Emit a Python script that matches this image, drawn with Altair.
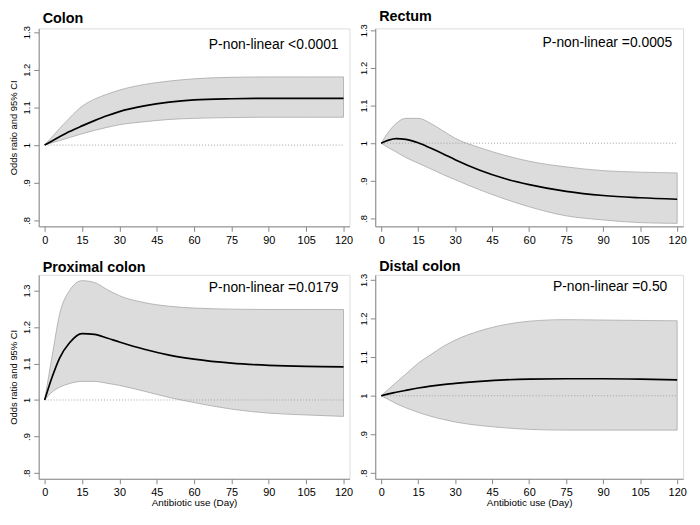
import altair as alt
import pandas as pd

days = [0, 3, 6, 10, 15, 20, 25, 30, 40, 50, 60, 75, 90, 105, 120]

panel_names = ["Colon", "Rectum", "Proximal colon", "Distal colon"]

colon_or = [1.0, 1.011, 1.022, 1.036, 1.051, 1.065, 1.078, 1.089, 1.104, 1.114, 1.120, 1.123, 1.124, 1.124, 1.124]
colon_hi = [1.0, 1.022, 1.044, 1.072, 1.103, 1.122, 1.135, 1.146, 1.161, 1.170, 1.176, 1.180, 1.181, 1.181, 1.181]
colon_lo = [1.0, 1.006, 1.012, 1.020, 1.030, 1.039, 1.047, 1.054, 1.062, 1.068, 1.071, 1.073, 1.074, 1.074, 1.074]

rectum_or = [1.0, 1.008, 1.012, 1.010, 1.001, 0.987, 0.972, 0.956, 0.928, 0.906, 0.890, 0.872, 0.861, 0.855, 0.851]
rectum_hi = [1.0, 1.030, 1.052, 1.066, 1.066, 1.053, 1.033, 1.013, 0.988, 0.968, 0.952, 0.937, 0.927, 0.923, 0.921]
rectum_lo = [1.0, 0.988, 0.977, 0.962, 0.947, 0.932, 0.917, 0.903, 0.876, 0.852, 0.831, 0.807, 0.796, 0.789, 0.787]

prox_or = [1.0, 1.063, 1.115, 1.157, 1.182, 1.180, 1.170, 1.159, 1.139, 1.123, 1.112, 1.101, 1.095, 1.092, 1.091]
prox_hi = [1.0, 1.120, 1.235, 1.300, 1.327, 1.322, 1.303, 1.286, 1.267, 1.257, 1.252, 1.249, 1.248, 1.248, 1.248]
prox_lo = [1.0, 1.022, 1.035, 1.045, 1.051, 1.051, 1.046, 1.040, 1.024, 1.007, 0.993, 0.975, 0.964, 0.959, 0.955]

dist_or = [1.0, 1.005, 1.009, 1.014, 1.020, 1.025, 1.029, 1.032, 1.037, 1.041, 1.043, 1.044, 1.044, 1.043, 1.041]
dist_hi = [1.0, 1.017, 1.034, 1.056, 1.084, 1.106, 1.127, 1.144, 1.168, 1.184, 1.193, 1.197, 1.196, 1.195, 1.194]
dist_lo = [1.0, 0.990, 0.980, 0.969, 0.957, 0.947, 0.939, 0.932, 0.923, 0.917, 0.913, 0.911, 0.911, 0.911, 0.911]

p_texts = ["P-non-linear <0.0001", "P-non-linear =0.0005", "P-non-linear =0.0179", "P-non-linear =0.50"]
p_text_x = [118, 118, 118, 116]
p_text_y = [1.254, 1.255, 1.295, 1.272]

y_domains = [[0.784, 1.310], [0.779, 1.305], [0.784, 1.343], [0.785, 1.313]]
x_ticks = [0, 15, 30, 45, 60, 75, 90, 105, 120]
y_ticks = [0.8, 0.9, 1.0, 1.1, 1.2, 1.3]
ref_line = [0, 120, 1.0]

FONT = "Liberation Sans"


def panel(i, or_, lo, hi, width, height, ytitle, xtitle):
    df = pd.DataFrame({"day": days, "or": or_, "lo": lo, "hi": hi})
    ref_df = pd.DataFrame({"day": [ref_line[0]], "day2": [ref_line[1]], "or": [ref_line[2]]})
    txt_df = pd.DataFrame({"day": [p_text_x[i]], "or": [p_text_y[i]], "t": [p_texts[i]]})
    xs = alt.Scale(domain=[-2.4, 122.4], nice=False, zero=False)
    ys = alt.Scale(domain=y_domains[i], nice=False, zero=False)
    xaxis = alt.Axis(values=x_ticks, grid=False, labelFontSize=11, titleFontSize=10,
                     titlePadding=0, labelPadding=3, labelOverlap=False,
                     titleFontWeight="normal")
    yaxis = alt.Axis(values=y_ticks, grid=False, labelAngle=-90, labelFontSize=9.5,
                     labelAlign="center", labelBaseline="bottom",
                     titleFontSize=9.5, titlePadding=3, labelPadding=2, labelOverlap=False,
                     titleFontWeight="normal",
                     labelExpr="datum.value == 1 ? '1' : replace(format(datum.value, '.1f'), '0.', '.')")
    X = alt.X("day:Q", scale=xs, axis=xaxis, title=xtitle)
    Y = alt.Y("or:Q", scale=ys, axis=yaxis, title=ytitle)
    band = alt.Chart(df).mark_area(fill="#dcdcdc", stroke="#a8a8a8", strokeWidth=0.8,
                                   interpolate="monotone").encode(
        x=X,
        y=alt.Y("lo:Q", scale=ys, axis=yaxis, title=ytitle),
        y2="hi:Q",
    )
    ref = alt.Chart(ref_df).mark_rule(color="#a0a0a0", strokeDash=[1, 2], strokeWidth=1).encode(
        x=X, x2="day2:Q", y=Y
    )
    line = alt.Chart(df).mark_line(color="black", strokeWidth=1.7, interpolate="monotone").encode(
        x=X, y=Y
    )
    txt = alt.Chart(txt_df).mark_text(align="right", baseline="alphabetic", fontSize=14,
                                      font=FONT, color="black").encode(
        x=X, y=Y, text="t:N"
    )
    return alt.layer(band, ref, line, txt).properties(
        width=width, height=height,
        title=alt.TitleParams(panel_names[i], anchor="start", frame="group", dx=4,
                              fontSize=14.5, fontWeight="bold", font=FONT,
                              color="black", offset=-1),
    )


p1 = panel(0, colon_or, colon_lo, colon_hi, 314, 200, "Odds ratio and 95% CI", None)
p2 = panel(1, rectum_or, rectum_lo, rectum_hi, 311, 200, None, None)
p3 = panel(2, prox_or, prox_lo, prox_hi, 314, 206, "Odds ratio and 95% CI", "Antibiotic use (Day)")
p4 = panel(3, dist_or, dist_lo, dist_hi, 311, 206, None, "Antibiotic use (Day)")

chart = alt.concat(p1, p2, p3, p4, columns=2, spacing={"row": 49, "column": 26},
                   bounds="flush").configure_view(
    stroke="#8c8c8c", strokeWidth=1
).configure_axis(
    domainColor="#333333", tickColor="#333333", tickSize=5, labelColor="#333333",
    titleColor="#333333", labelFont=FONT, titleFont=FONT
).configure(background="white", padding={"top": -2, "left": 0, "right": 5, "bottom": 5})

chart.save("out.html", embed_options={"renderer": "svg", "actions": False})
